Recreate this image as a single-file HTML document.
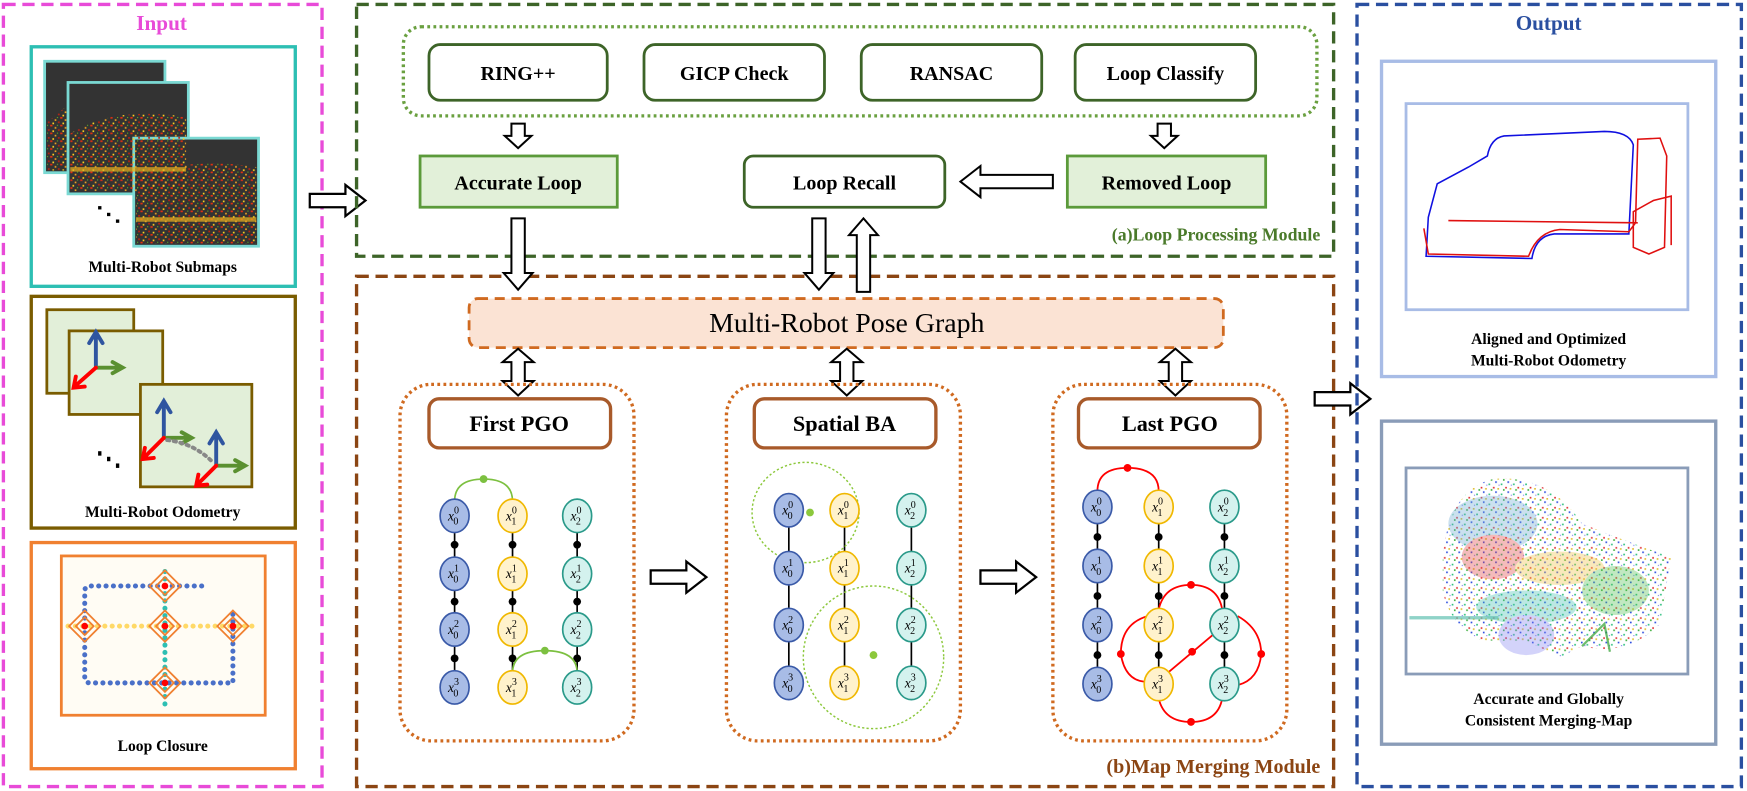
<!DOCTYPE html>
<html><head><meta charset="utf-8"><style>
html,body{margin:0;padding:0;background:#fff;}
svg{display:block;}
text{font-family:"Liberation Serif",serif;}
.b{font-weight:bold;}
</style></head><body>
<svg width="1747" height="791" viewBox="0 0 1568 710" xmlns="http://www.w3.org/2000/svg">
<defs>
<g id="arrR"><path d="M0,-6 L32,-6 L32,-14 L50,0 L32,14 L32,6 L0,6 Z" fill="#fff" stroke="#000" stroke-width="2"/></g>
<pattern id="spk" width="9" height="7" patternUnits="userSpaceOnUse">
<rect x="0" y="0" width="2" height="1.5" fill="#e03010"/><rect x="4" y="2" width="1.5" height="1.5" fill="#f0a020"/>
<rect x="7" y="4" width="1.5" height="1.5" fill="#c02010"/><rect x="2" y="5" width="1.5" height="1.5" fill="#ffd020"/>
<rect x="6" y="0" width="1" height="1" fill="#60b020"/>
</pattern>
<pattern id="pc" width="11" height="9" patternUnits="userSpaceOnUse">
<rect x="0" y="0" width="1.5" height="1.5" fill="#3050e0"/><rect x="5" y="2" width="1.5" height="1.5" fill="#30c080"/>
<rect x="9" y="5" width="1.5" height="1.5" fill="#e03030"/><rect x="2" y="6" width="1.5" height="1.5" fill="#e0c030"/>
<rect x="7" y="7" width="1.5" height="1.5" fill="#40b040"/><rect x="3" y="3" width="1" height="1" fill="#8080f0"/>
</pattern>
</defs>
<rect width="1568" height="710" fill="#fff"/>

<!-- INPUT -->
<rect x="3" y="4" width="286" height="702" fill="none" stroke="#e84bd8" stroke-width="3" stroke-dasharray="11,6"/>
<text x="145" y="27" text-anchor="middle" class="b" font-size="19" fill="#e84bd8">Input</text>

<rect x="28" y="42" width="237" height="215" fill="#fff" stroke="#2dbfb3" stroke-width="3"/>
<g stroke="#7ad9d3" stroke-width="2.5">
<rect x="40" y="55" width="108" height="100" fill="#333"/>
<rect x="61" y="74" width="108" height="100" fill="#333"/>
<rect x="120" y="124" width="112" height="97" fill="#333"/>
</g>
<path d="M42,110 L60,95 L60,153 L42,153Z" fill="url(#spk)"/>
<path d="M63,120 Q100,95 167,105 L167,172 L63,172Z" fill="url(#spk)"/>
<path d="M122,160 Q170,140 230,150 L230,219 L122,219Z" fill="url(#spk)"/>
<path d="M122,195 L230,195 L230,199 L122,199Z" fill="#e8b020" opacity="0.7"/>
<path d="M63,150 L167,150 L167,154 L63,154Z" fill="#e8b020" opacity="0.7"/>
<rect x="88" y="185" width="3" height="3"/><rect x="96" y="191" width="3" height="3"/><rect x="104" y="197" width="3" height="3"/>
<text x="146" y="244" text-anchor="middle" class="b" font-size="14">Multi-Robot Submaps</text>

<rect x="28" y="266" width="237" height="208" fill="#fff" stroke="#7a5c00" stroke-width="3"/>
<g stroke="#7a5c00" stroke-width="2.5" fill="#e2efd9">
<rect x="42" y="278" width="78" height="75"/>
<rect x="62" y="297" width="84" height="75"/>
<rect x="126" y="345" width="100" height="92"/>
</g>
<g stroke-width="3.5" fill="none" stroke-linecap="round">
<path d="M86,330 L86,300 M80,308 L86,298 L92,308" stroke="#2f55a0"/>
<path d="M86,330 L108,330 M101,325 L110,330 L101,335" stroke="#5a9030"/>
<path d="M86,330 L68,346 M68,338 L66,348 L76,347" stroke="#f00"/>
<path d="M147,393 L147,362 M141,370 L147,360 L153,370" stroke="#2f55a0"/>
<path d="M147,393 L170,393 M163,388 L172,393 L163,398" stroke="#5a9030"/>
<path d="M147,393 L130,410 M130,402 L128,412 L138,411" stroke="#f00"/>
<path d="M194,418 L194,390 M188,398 L194,388 L200,398" stroke="#2f55a0"/>
<path d="M194,418 L218,418 M211,413 L220,418 L211,423" stroke="#5a9030"/>
<path d="M194,418 L178,434 M178,426 L176,436 L186,435" stroke="#f00"/>
<path d="M150,395 Q175,398 192,416" stroke="#888" stroke-dasharray="2,4"/>
</g>
<rect x="88" y="405" width="3" height="4"/><rect x="96" y="410" width="3" height="4"/><rect x="104" y="416" width="3" height="4"/>
<text x="146" y="464" text-anchor="middle" class="b" font-size="14">Multi-Robot Odometry</text>

<rect x="28" y="487" width="237" height="203" fill="#fff" stroke="#f08030" stroke-width="3"/>
<rect x="55" y="499" width="183" height="143" fill="#fffcf4" stroke="#f08030" stroke-width="2.5"/>
<g fill="none" stroke-linecap="round" stroke-width="4.5" stroke-dasharray="0.1,6.5">
<path d="M181,526 L80,526 Q76,526 76,531 L76,608 Q76,613 81,613 L209,613 L209,549" stroke="#4a70c8"/>
<path d="M61,562 L231,562" stroke="#ffd966"/>
<path d="M148,513 L148,637" stroke="#2dbfb3"/>
</g>
<g fill="none" stroke="#f08030" stroke-width="1.6">
<g transform="translate(76,562)"><path d="M0,-14 L14,0 L0,14 L-14,0Z M0,-8 L8,0 L0,8 L-8,0Z"/></g>
<g transform="translate(148,526)"><path d="M0,-14 L14,0 L0,14 L-14,0Z M0,-8 L8,0 L0,8 L-8,0Z"/></g>
<g transform="translate(148,562)"><path d="M0,-14 L14,0 L0,14 L-14,0Z M0,-8 L8,0 L0,8 L-8,0Z"/></g>
<g transform="translate(209,562)"><path d="M0,-14 L14,0 L0,14 L-14,0Z M0,-8 L8,0 L0,8 L-8,0Z"/></g>
<g transform="translate(148,613)"><path d="M0,-14 L14,0 L0,14 L-14,0Z M0,-8 L8,0 L0,8 L-8,0Z"/></g>
</g>
<g fill="#f00"><circle cx="76" cy="562" r="3"/><circle cx="148" cy="526" r="3"/><circle cx="148" cy="562" r="3"/><circle cx="209" cy="562" r="3"/><circle cx="148" cy="613" r="3"/></g>
<text x="146" y="674" text-anchor="middle" class="b" font-size="14">Loop Closure</text>

<use href="#arrR" transform="translate(278,180)"/>

<!-- LOOP PROCESSING -->
<rect x="320" y="4" width="877" height="226" fill="none" stroke="#3d6428" stroke-width="3" stroke-dasharray="11,6"/>
<rect x="362" y="24" width="820" height="80" rx="16" fill="none" stroke="#6aa040" stroke-width="3" stroke-dasharray="2.5,3"/>
<g fill="#fff" stroke="#3d6428" stroke-width="2.5">
<rect x="385" y="40" width="160" height="50" rx="10"/>
<rect x="578" y="40" width="162" height="50" rx="10"/>
<rect x="773" y="40" width="162" height="50" rx="10"/>
<rect x="965" y="40" width="162" height="50" rx="10"/>
</g>
<g class="b" font-size="18" text-anchor="middle">
<text x="465" y="72">RING++</text><text x="659" y="72">GICP Check</text><text x="854" y="72">RANSAC</text><text x="1046" y="72">Loop Classify</text>
</g>
<g fill="#fff" stroke="#000" stroke-width="1.8">
<path d="M459,111 L471,111 L471,122 L477,122 L465,133 L453,122 L459,122Z"/>
<path d="M1039,111 L1051,111 L1051,122 L1057,122 L1045,133 L1033,122 L1039,122Z"/>
</g>
<rect x="377" y="140" width="177" height="46" fill="#e2f0d9" stroke="#5b9a3a" stroke-width="2.5"/>
<rect x="668" y="140" width="180" height="46" rx="8" fill="#fff" stroke="#3d6428" stroke-width="2.5"/>
<rect x="958" y="140" width="178" height="46" fill="#e2f0d9" stroke="#5b9a3a" stroke-width="2.5"/>
<g class="b" font-size="18" text-anchor="middle">
<text x="465" y="170">Accurate Loop</text><text x="758" y="170">Loop Recall</text><text x="1047" y="170">Removed Loop</text>
</g>
<path d="M945,157 L880,157 L880,149 L862,163 L880,177 L880,169 L945,169Z" fill="#fff" stroke="#000" stroke-width="1.8"/>
<text x="1185" y="216" text-anchor="end" class="b" font-size="16" fill="#4a7a2a">(a)Loop Processing Module</text>

<!-- MAP MERGING -->
<rect x="320" y="248" width="877" height="458" fill="none" stroke="#8b4513" stroke-width="3" stroke-dasharray="11,6"/>
<g fill="#fff" stroke="#000" stroke-width="1.8">
<path d="M459,196 L471,196 L471,245 L478,245 L465,260 L452,245 L459,245Z"/>
<path d="M729,196 L741,196 L741,245 L748,245 L735,260 L722,245 L729,245Z"/>
<path d="M769,262 L781,262 L781,211 L788,211 L775,196 L762,211 L769,211Z"/>
</g>
<rect x="421" y="268" width="677" height="44" rx="8" fill="#fbe3d4" stroke="#d06a20" stroke-width="2.5" stroke-dasharray="9,6"/>
<text x="760" y="298" text-anchor="middle" font-size="25">Multi-Robot Pose Graph</text>
<g fill="#fff" stroke="#000" stroke-width="1.8">
<path d="M459,325 L459,342 L451,342 L465,355 L479,342 L471,342 L471,325 L479,325 L465,313 L451,325Z"/>
<path d="M754,325 L754,342 L746,342 L760,355 L774,342 L766,342 L766,325 L774,325 L760,313 L746,325Z"/>
<path d="M1049,325 L1049,342 L1041,342 L1055,355 L1069,342 L1061,342 L1061,325 L1069,325 L1055,313 L1041,325Z"/>
</g>
<g fill="none" stroke="#d06a20" stroke-width="3" stroke-dasharray="2.5,3">
<rect x="359" y="345" width="210" height="320" rx="28"/>
<rect x="652" y="345" width="210" height="320" rx="28"/>
<rect x="945" y="345" width="210" height="320" rx="28"/>
</g>
<g fill="#fff" stroke="#a85a2a" stroke-width="3">
<rect x="385" y="358" width="163" height="44" rx="9"/>
<rect x="677" y="358" width="163" height="44" rx="9"/>
<rect x="968" y="358" width="163" height="44" rx="9"/>
</g>
<g class="b" font-size="20" text-anchor="middle">
<text x="466" y="387">First PGO</text><text x="758" y="387">Spatial BA</text><text x="1050" y="387">Last PGO</text>
</g>
<use href="#arrR" transform="translate(584,518)"/>
<use href="#arrR" transform="translate(880,518)"/>

<g stroke="#000" stroke-width="1.5">
<line x1="408" y1="463" x2="408" y2="617"/><line x1="460" y1="463" x2="460" y2="617"/><line x1="518" y1="463" x2="518" y2="617"/>
</g>
<g fill="#000">
<circle cx="408" cy="489" r="3.5"/><circle cx="408" cy="540" r="3.5"/><circle cx="408" cy="591" r="3.5"/>
<circle cx="460" cy="489" r="3.5"/><circle cx="460" cy="540" r="3.5"/><circle cx="460" cy="591" r="3.5"/>
<circle cx="518" cy="489" r="3.5"/><circle cx="518" cy="540" r="3.5"/><circle cx="518" cy="591" r="3.5"/>
</g>
<g fill="none" stroke="#7cc040" stroke-width="1.5">
<path d="M408,450 Q408,430 434,430 Q460,430 460,450"/>
<path d="M460,604 Q460,584 489,584 Q518,584 518,604"/>
</g>
<circle cx="434" cy="430" r="3.5" fill="#7cc040"/><circle cx="489" cy="584" r="3.5" fill="#7cc040"/>

<g stroke="#000" stroke-width="1.5">
<line x1="708" y1="458" x2="708" y2="613"/><line x1="758" y1="458" x2="758" y2="613"/><line x1="818" y1="458" x2="818" y2="613"/>
</g>
<g fill="none" stroke="#8cc83c" stroke-width="1.3" stroke-dasharray="2,2">
<ellipse cx="723" cy="460" rx="48" ry="45"/>
<ellipse cx="784" cy="590" rx="63" ry="64"/>
</g>
<circle cx="727" cy="460" r="3.5" fill="#8cc83c"/><circle cx="784" cy="588" r="3.5" fill="#8cc83c"/>

<g stroke="#000" stroke-width="1.5">
<line x1="985" y1="455" x2="985" y2="614"/><line x1="1040" y1="455" x2="1040" y2="614"/><line x1="1099" y1="455" x2="1099" y2="614"/>
</g>
<g fill="#000">
<circle cx="985" cy="482" r="3.5"/><circle cx="985" cy="535" r="3.5"/><circle cx="985" cy="588" r="3.5"/>
<circle cx="1040" cy="482" r="3.5"/><circle cx="1040" cy="535" r="3.5"/><circle cx="1040" cy="588" r="3.5"/>
<circle cx="1099" cy="482" r="3.5"/><circle cx="1099" cy="535" r="3.5"/><circle cx="1099" cy="588" r="3.5"/>
</g>
<g fill="none" stroke="#f00" stroke-width="1.6">
<path d="M985,441 Q985,420 1012,420 Q1040,420 1040,441"/>
<path d="M1040,547 Q1045,525 1069,525 Q1093,525 1097,547"/>
<path d="M1030,553 Q1006,560 1006,587 Q1010,612 1030,612"/>
<path d="M1111,553 Q1132,565 1132,587 Q1130,610 1111,615"/>
<path d="M1040,627 Q1045,648 1069,648 Q1093,648 1097,627"/>
<path d="M1048,604 L1092,567"/>
</g>
<g fill="#f00">
<circle cx="1012" cy="420" r="3.5"/><circle cx="1069" cy="525" r="3.5"/><circle cx="1006" cy="587" r="3.5"/>
<circle cx="1132" cy="587" r="3.5"/><circle cx="1069" cy="648" r="3.5"/><circle cx="1070" cy="585" r="3.5"/>
</g>

<g stroke-width="1.5" font-size="12" font-style="italic" text-anchor="middle">
<g fill="#a8bce6" stroke="#3a5aa8">
<ellipse cx="408" cy="463" rx="13" ry="15"/><ellipse cx="408" cy="515" rx="13" ry="15"/><ellipse cx="408" cy="565" rx="13" ry="15"/><ellipse cx="408" cy="617" rx="13" ry="15"/>
<ellipse cx="708" cy="458" rx="13" ry="15"/><ellipse cx="708" cy="510" rx="13" ry="15"/><ellipse cx="708" cy="561" rx="13" ry="15"/><ellipse cx="708" cy="613" rx="13" ry="15"/>
<ellipse cx="985" cy="455" rx="13" ry="15"/><ellipse cx="985" cy="508" rx="13" ry="15"/><ellipse cx="985" cy="561" rx="13" ry="15"/><ellipse cx="985" cy="614" rx="13" ry="15"/>
</g>
<g fill="#fff2cc" stroke="#f0b800">
<ellipse cx="460" cy="463" rx="13" ry="15"/><ellipse cx="460" cy="515" rx="13" ry="15"/><ellipse cx="460" cy="565" rx="13" ry="15"/><ellipse cx="460" cy="617" rx="13" ry="15"/>
<ellipse cx="758" cy="458" rx="13" ry="15"/><ellipse cx="758" cy="510" rx="13" ry="15"/><ellipse cx="758" cy="561" rx="13" ry="15"/><ellipse cx="758" cy="613" rx="13" ry="15"/>
<ellipse cx="1040" cy="455" rx="13" ry="15"/><ellipse cx="1040" cy="508" rx="13" ry="15"/><ellipse cx="1040" cy="561" rx="13" ry="15"/><ellipse cx="1040" cy="614" rx="13" ry="15"/>
</g>
<g fill="#d4f2ee" stroke="#2a9a8a">
<ellipse cx="518" cy="463" rx="13" ry="15"/><ellipse cx="518" cy="515" rx="13" ry="15"/><ellipse cx="518" cy="565" rx="13" ry="15"/><ellipse cx="518" cy="617" rx="13" ry="15"/>
<ellipse cx="818" cy="458" rx="13" ry="15"/><ellipse cx="818" cy="510" rx="13" ry="15"/><ellipse cx="818" cy="561" rx="13" ry="15"/><ellipse cx="818" cy="613" rx="13" ry="15"/>
<ellipse cx="1099" cy="455" rx="13" ry="15"/><ellipse cx="1099" cy="508" rx="13" ry="15"/><ellipse cx="1099" cy="561" rx="13" ry="15"/><ellipse cx="1099" cy="614" rx="13" ry="15"/>
</g>
<g fill="#000" stroke="none">
<text x="407" y="467">x<tspan font-size="9" font-style="normal" dy="-6">0</tspan><tspan font-size="9" font-style="normal" dx="-5" dy="10">0</tspan></text>
<text x="407" y="519">x<tspan font-size="9" font-style="normal" dy="-6">1</tspan><tspan font-size="9" font-style="normal" dx="-5" dy="10">0</tspan></text>
<text x="407" y="569">x<tspan font-size="9" font-style="normal" dy="-6">2</tspan><tspan font-size="9" font-style="normal" dx="-5" dy="10">0</tspan></text>
<text x="407" y="621">x<tspan font-size="9" font-style="normal" dy="-6">3</tspan><tspan font-size="9" font-style="normal" dx="-5" dy="10">0</tspan></text>
<text x="459" y="467">x<tspan font-size="9" font-style="normal" dy="-6">0</tspan><tspan font-size="9" font-style="normal" dx="-5" dy="10">1</tspan></text>
<text x="459" y="519">x<tspan font-size="9" font-style="normal" dy="-6">1</tspan><tspan font-size="9" font-style="normal" dx="-5" dy="10">1</tspan></text>
<text x="459" y="569">x<tspan font-size="9" font-style="normal" dy="-6">2</tspan><tspan font-size="9" font-style="normal" dx="-5" dy="10">1</tspan></text>
<text x="459" y="621">x<tspan font-size="9" font-style="normal" dy="-6">3</tspan><tspan font-size="9" font-style="normal" dx="-5" dy="10">1</tspan></text>
<text x="517" y="467">x<tspan font-size="9" font-style="normal" dy="-6">0</tspan><tspan font-size="9" font-style="normal" dx="-5" dy="10">2</tspan></text>
<text x="517" y="519">x<tspan font-size="9" font-style="normal" dy="-6">1</tspan><tspan font-size="9" font-style="normal" dx="-5" dy="10">2</tspan></text>
<text x="517" y="569">x<tspan font-size="9" font-style="normal" dy="-6">2</tspan><tspan font-size="9" font-style="normal" dx="-5" dy="10">2</tspan></text>
<text x="517" y="621">x<tspan font-size="9" font-style="normal" dy="-6">3</tspan><tspan font-size="9" font-style="normal" dx="-5" dy="10">2</tspan></text>

<text x="707" y="462">x<tspan font-size="9" font-style="normal" dy="-6">0</tspan><tspan font-size="9" font-style="normal" dx="-5" dy="10">0</tspan></text>
<text x="707" y="514">x<tspan font-size="9" font-style="normal" dy="-6">1</tspan><tspan font-size="9" font-style="normal" dx="-5" dy="10">0</tspan></text>
<text x="707" y="565">x<tspan font-size="9" font-style="normal" dy="-6">2</tspan><tspan font-size="9" font-style="normal" dx="-5" dy="10">0</tspan></text>
<text x="707" y="617">x<tspan font-size="9" font-style="normal" dy="-6">3</tspan><tspan font-size="9" font-style="normal" dx="-5" dy="10">0</tspan></text>
<text x="757" y="462">x<tspan font-size="9" font-style="normal" dy="-6">0</tspan><tspan font-size="9" font-style="normal" dx="-5" dy="10">1</tspan></text>
<text x="757" y="514">x<tspan font-size="9" font-style="normal" dy="-6">1</tspan><tspan font-size="9" font-style="normal" dx="-5" dy="10">1</tspan></text>
<text x="757" y="565">x<tspan font-size="9" font-style="normal" dy="-6">2</tspan><tspan font-size="9" font-style="normal" dx="-5" dy="10">1</tspan></text>
<text x="757" y="617">x<tspan font-size="9" font-style="normal" dy="-6">3</tspan><tspan font-size="9" font-style="normal" dx="-5" dy="10">1</tspan></text>
<text x="817" y="462">x<tspan font-size="9" font-style="normal" dy="-6">0</tspan><tspan font-size="9" font-style="normal" dx="-5" dy="10">2</tspan></text>
<text x="817" y="514">x<tspan font-size="9" font-style="normal" dy="-6">1</tspan><tspan font-size="9" font-style="normal" dx="-5" dy="10">2</tspan></text>
<text x="817" y="565">x<tspan font-size="9" font-style="normal" dy="-6">2</tspan><tspan font-size="9" font-style="normal" dx="-5" dy="10">2</tspan></text>
<text x="817" y="617">x<tspan font-size="9" font-style="normal" dy="-6">3</tspan><tspan font-size="9" font-style="normal" dx="-5" dy="10">2</tspan></text>

<text x="984" y="459">x<tspan font-size="9" font-style="normal" dy="-6">0</tspan><tspan font-size="9" font-style="normal" dx="-5" dy="10">0</tspan></text>
<text x="984" y="512">x<tspan font-size="9" font-style="normal" dy="-6">1</tspan><tspan font-size="9" font-style="normal" dx="-5" dy="10">0</tspan></text>
<text x="984" y="565">x<tspan font-size="9" font-style="normal" dy="-6">2</tspan><tspan font-size="9" font-style="normal" dx="-5" dy="10">0</tspan></text>
<text x="984" y="618">x<tspan font-size="9" font-style="normal" dy="-6">3</tspan><tspan font-size="9" font-style="normal" dx="-5" dy="10">0</tspan></text>
<text x="1039" y="459">x<tspan font-size="9" font-style="normal" dy="-6">0</tspan><tspan font-size="9" font-style="normal" dx="-5" dy="10">1</tspan></text>
<text x="1039" y="512">x<tspan font-size="9" font-style="normal" dy="-6">1</tspan><tspan font-size="9" font-style="normal" dx="-5" dy="10">1</tspan></text>
<text x="1039" y="565">x<tspan font-size="9" font-style="normal" dy="-6">2</tspan><tspan font-size="9" font-style="normal" dx="-5" dy="10">1</tspan></text>
<text x="1039" y="618">x<tspan font-size="9" font-style="normal" dy="-6">3</tspan><tspan font-size="9" font-style="normal" dx="-5" dy="10">1</tspan></text>
<text x="1098" y="459">x<tspan font-size="9" font-style="normal" dy="-6">0</tspan><tspan font-size="9" font-style="normal" dx="-5" dy="10">2</tspan></text>
<text x="1098" y="512">x<tspan font-size="9" font-style="normal" dy="-6">1</tspan><tspan font-size="9" font-style="normal" dx="-5" dy="10">2</tspan></text>
<text x="1098" y="565">x<tspan font-size="9" font-style="normal" dy="-6">2</tspan><tspan font-size="9" font-style="normal" dx="-5" dy="10">2</tspan></text>
<text x="1098" y="618">x<tspan font-size="9" font-style="normal" dy="-6">3</tspan><tspan font-size="9" font-style="normal" dx="-5" dy="10">2</tspan></text>
</g>
</g>

<text x="1185" y="694" text-anchor="end" class="b" font-size="18" fill="#8b4513">(b)Map Merging Module</text>

<use href="#arrR" transform="translate(1180,358)"/>

<!-- OUTPUT -->
<rect x="1218" y="4" width="345" height="702" fill="none" stroke="#2a4fa0" stroke-width="3" stroke-dasharray="11,6"/>
<text x="1390" y="27" text-anchor="middle" class="b" font-size="19" fill="#2a4fa0">Output</text>
<rect x="1240" y="55" width="300" height="283" fill="#fff" stroke="#a8bce6" stroke-width="3"/>
<rect x="1262" y="93" width="253" height="185" fill="#fff" stroke="#a8bce6" stroke-width="2.5"/>
<g fill="none" stroke-width="1.4">
<path d="M1280,230 L1375,232 Q1378,212 1395,210 L1462,210 L1466,130 Q1462,118 1440,118 L1350,122 Q1338,124 1335,140 L1318,150 L1290,165 L1282,195 Z" stroke="#1010e0"/>
<path d="M1278,205 L1282,228 L1372,230 Q1380,208 1400,206 L1462,208 L1468,200 L1470,125 L1490,124 L1496,140 L1494,222 L1480,228 L1466,222 L1466,190 L1484,180 L1500,176 L1500,220 M1300,198 L1470,200" stroke="#e01010"/>
</g>
<text x="1390" y="309" text-anchor="middle" class="b" font-size="14">Aligned and Optimized</text>
<text x="1390" y="328" text-anchor="middle" class="b" font-size="14">Multi-Robot Odometry</text>

<rect x="1240" y="378" width="300" height="290" fill="#fff" stroke="#8a9cb8" stroke-width="3"/>
<rect x="1262" y="420" width="253" height="185" fill="#fff" stroke="#8a9cb8" stroke-width="2.5"/>
<path d="M1295,500 Q1300,440 1340,430 Q1390,425 1420,470 Q1470,490 1500,500 L1490,560 Q1460,590 1420,580 L1400,590 L1370,575 L1330,575 Q1300,560 1295,530Z" fill="url(#pc)"/>
<g opacity="0.35">
<ellipse cx="1340" cy="470" rx="40" ry="25" fill="#6aa8d0"/>
<ellipse cx="1340" cy="500" rx="28" ry="20" fill="#e04040"/>
<ellipse cx="1400" cy="510" rx="40" ry="15" fill="#f0c040"/>
<ellipse cx="1450" cy="530" rx="30" ry="22" fill="#50c050"/>
<ellipse cx="1370" cy="545" rx="45" ry="15" fill="#40c0b0"/>
<ellipse cx="1370" cy="570" rx="25" ry="18" fill="#8080f0"/>
</g>
<rect x="1265" y="553" width="80" height="3" fill="#60c0b0" opacity="0.7"/>
<path d="M1420,580 L1440,560 L1445,585" stroke="#30a030" stroke-width="2" fill="none" opacity="0.7"/>
<text x="1390" y="632" text-anchor="middle" class="b" font-size="14">Accurate and Globally</text>
<text x="1390" y="651" text-anchor="middle" class="b" font-size="14">Consistent Merging-Map</text>
</svg>
</body></html>
